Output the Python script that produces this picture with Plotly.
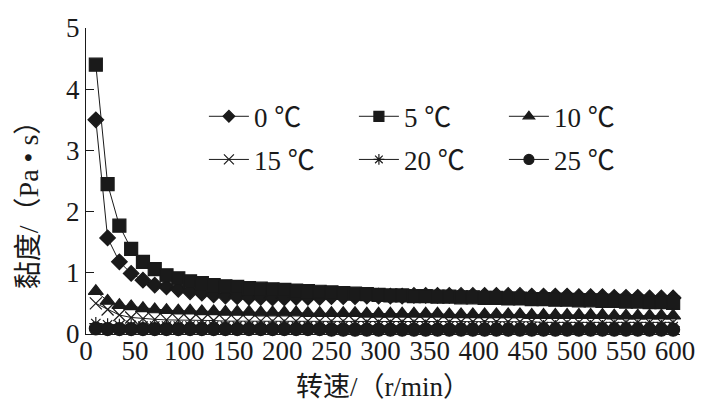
import plotly.graph_objects as go

speed = [10, 22, 34, 46, 58, 70, 82, 94, 106, 118,
         130, 142, 154, 166, 178, 190, 202, 214, 226, 238,
         250, 262, 274, 286, 298, 310, 322, 334, 346, 358,
         370, 382, 394, 406, 418, 430, 442, 454, 466, 478,
         490, 502, 514, 526, 538, 550, 562, 574, 586, 598]

v0 = [3.50, 1.57, 1.18, 0.99, 0.88, 0.80, 0.77, 0.73, 0.69, 0.67,
      0.64, 0.62, 0.61, 0.60, 0.60, 0.59, 0.59, 0.60, 0.60, 0.60,
      0.61, 0.61, 0.61, 0.62, 0.62, 0.62, 0.62, 0.63, 0.63, 0.63,
      0.63, 0.63, 0.63, 0.63, 0.63, 0.63, 0.63, 0.62, 0.62, 0.62,
      0.62, 0.61, 0.61, 0.61, 0.60, 0.60, 0.60, 0.59, 0.59, 0.59]

v5 = [4.40, 2.45, 1.77, 1.39, 1.18, 1.06, 0.96, 0.91, 0.86, 0.83,
      0.80, 0.78, 0.77, 0.75, 0.74, 0.73, 0.72, 0.71, 0.70, 0.69,
      0.68, 0.67, 0.66, 0.65, 0.64, 0.63, 0.63, 0.62, 0.62, 0.61,
      0.61, 0.60, 0.60, 0.59, 0.59, 0.58, 0.58, 0.57, 0.57, 0.56,
      0.56, 0.55, 0.55, 0.54, 0.54, 0.53, 0.53, 0.52, 0.52, 0.51]

v10 = [0.70, 0.54, 0.47, 0.45, 0.42, 0.40, 0.39, 0.38, 0.38, 0.37,
       0.37, 0.36, 0.36, 0.36, 0.35, 0.35, 0.35, 0.35, 0.34, 0.34,
       0.34, 0.34, 0.34, 0.33, 0.33, 0.33, 0.33, 0.33, 0.33, 0.33,
       0.32, 0.32, 0.32, 0.32, 0.32, 0.32, 0.32, 0.31, 0.31, 0.31,
       0.31, 0.31, 0.31, 0.31, 0.30, 0.30, 0.30, 0.30, 0.30, 0.30]

v15 = [0.50, 0.40, 0.31, 0.27, 0.25, 0.24, 0.23, 0.23, 0.22, 0.22,
       0.22, 0.21, 0.21, 0.21, 0.21, 0.21, 0.21, 0.21, 0.21, 0.21,
       0.21, 0.21, 0.20, 0.20, 0.20, 0.20, 0.20, 0.20, 0.20, 0.20,
       0.20, 0.20, 0.20, 0.20, 0.20, 0.20, 0.20, 0.20, 0.19, 0.19,
       0.19, 0.19, 0.19, 0.19, 0.19, 0.19, 0.19, 0.19, 0.19, 0.19]

v20 = [0.17, 0.15, 0.14, 0.14, 0.13, 0.13, 0.13, 0.13, 0.13, 0.13,
       0.13, 0.13, 0.13, 0.13, 0.13, 0.13, 0.13, 0.13, 0.13, 0.13,
       0.13, 0.13, 0.13, 0.13, 0.13, 0.13, 0.13, 0.13, 0.13, 0.13,
       0.13, 0.12, 0.12, 0.12, 0.12, 0.12, 0.12, 0.12, 0.12, 0.12,
       0.12, 0.12, 0.12, 0.12, 0.12, 0.12, 0.12, 0.12, 0.12, 0.12]

v25 = [0.09, 0.08, 0.08, 0.08, 0.08, 0.08, 0.08, 0.08, 0.08, 0.08,
       0.08, 0.08, 0.08, 0.08, 0.08, 0.08, 0.08, 0.08, 0.08, 0.08,
       0.07, 0.07, 0.07, 0.07, 0.07, 0.07, 0.07, 0.07, 0.07, 0.07,
       0.07, 0.07, 0.07, 0.07, 0.07, 0.07, 0.07, 0.07, 0.07, 0.07,
       0.07, 0.07, 0.07, 0.07, 0.07, 0.07, 0.07, 0.07, 0.07, 0.07]

names = ["0 ℃", "5 ℃", "10 ℃", "15 ℃", "20 ℃", "25 ℃"]
series = [v0, v5, v10, v15, v20, v25]
symbols = ["diamond", "square", "triangle-up", "x-thin", "asterisk", "circle"]
sizes = [12, 13, 13, 12, 11, 13]
legend_sizes = [9, 10, 10, 10, 9, 10]
legends = ["legend", "legend", "legend", "legend2", "legend2", "legend2"]

x_title = "转速/（r/min）"
y_title = "黏度/（Pa\u00a0•\u00a0s）"

FONT = "Liberation Serif, Noto Sans CJK SC"
INK = "#1a1a1a"

fig = go.Figure()
for name, vals, sym, sz in zip(names, series, symbols, sizes):
    fig.add_trace(go.Scatter(
        x=speed, y=vals, name=name, mode="lines+markers",
        line=dict(color=INK, width=1),
        marker=dict(symbol=sym, size=sz, color=INK, line=dict(color=INK, width=1.2)),
        cliponaxis=False, showlegend=False,
    ))

# legend-only entries (smaller symbols, as in the original legend)
for name, sym, sz, lg in zip(names, symbols, legend_sizes, legends):
    fig.add_trace(go.Scatter(
        x=[None], y=[None], name=name, mode="lines+markers",
        line=dict(color=INK, width=1),
        marker=dict(symbol=sym, size=sz, color=INK, line=dict(color=INK, width=1.2)),
        legend=lg, showlegend=True,
    ))

leg_common = dict(orientation="h", xanchor="left", yanchor="middle",
                  entrywidth=95, entrywidthmode="pixels", itemwidth=40,
                  bgcolor="rgba(0,0,0,0)", font=dict(family=FONT, size=27, color=INK))

fig.update_layout(
    width=716, height=419,
    margin=dict(l=86, r=36, t=28, b=85),
    paper_bgcolor="white", plot_bgcolor="white",
    font=dict(family=FONT, size=27, color=INK),
    showlegend=True,
    legend=dict(x=0.1985, y=0.710, **leg_common),
    legend2=dict(x=0.1985, y=0.569, **leg_common),
    xaxis=dict(range=[0, 605], tickmode="linear", tick0=0, dtick=50,
               showgrid=False, zeroline=False, showline=True, linecolor=INK,
               linewidth=1.2, ticks="", ticklabelstandoff=-8,
               tickfont=dict(family=FONT, size=27, color=INK),
               title=dict(text=x_title, font=dict(family=FONT, size=27, color=INK),
                          standoff=12)),
    yaxis=dict(range=[0, 5], tickmode="linear", tick0=0, dtick=1,
               showgrid=False, zeroline=False, showline=True, linecolor=INK,
               linewidth=1.2, ticks="inside", ticklen=8, tickwidth=1.2, tickcolor=INK,
               tickfont=dict(family=FONT, size=27, color=INK)),
    annotations=[dict(text=y_title, xref="paper", yref="paper",
                      x=-0.0976, y=0.444, xanchor="center", yanchor="middle",
                      textangle=-90, showarrow=False,
                      font=dict(family=FONT, size=28, color=INK))],
)

fig.write_html("out.html", config={"displayModeBar": False},
               post_script="document.body.style.margin='0';")
